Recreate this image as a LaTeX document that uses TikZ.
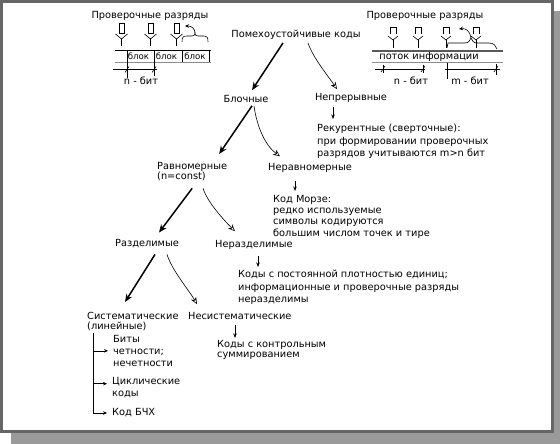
\documentclass[tikz,border=0pt]{standalone}
\usepackage{fontspec}
\setmainfont{DejaVu Sans}
\usetikzlibrary{arrows.meta}
\definecolor{shadowgray}{HTML}{9A9A9A}
\definecolor{framegray}{HTML}{666666}
\begin{document}
\begin{tikzpicture}[x=1pt,y=-1pt,
  txt/.style={font=\fontsize{9.8}{11}\selectfont, inner sep=0pt},
  small/.style={font=\fontsize{8.6}{10}\selectfont, inner sep=0pt},
  lbl/.style={anchor=north west, align=left, inner sep=0pt, font=\fontsize{9.8}{#1}\selectfont},
  lbl/.default=11.5,
  mainarr/.style={line width=1.5pt, -{Stealth[length=8pt,width=6.5pt]}},
  sidearr/.style={line width=0.6pt, -{Stealth[open,length=7pt,width=6pt]}},
  downarr/.style={line width=0.6pt, -{Stealth[length=4.5pt,width=3.5pt]}},
  brarr/.style={line width=0.6pt, -{Stealth[length=4pt,width=3.5pt]}},
  fig/.style={line width=0.6pt},
  bar/.style={line width=1.6pt},
  grayline/.style={line width=0.8pt, black!45}
]
% frame
\fill[shadowgray] (11,10) rectangle (560,443);
\draw[framegray, line width=3pt, fill=white] (1.5,0.5) rectangle (552,430.5);
\useasboundingbox (0,0) rectangle (560,443);

% ---------- top-left sketch ----------
\node[txt] (chkL) at (150,15) {Проверочные разряды};
\foreach \x in {121.5,150.5,176.5}{
  \draw[fig] (\x-2.5,22) rectangle (\x+2.5,32);
  \draw[fig] (\x-6,33) -- (\x,38) -- (\x+6,33);
  \draw[fig] (\x,38) -- (\x,45);
}
\draw[fig] (182,41) .. controls (182,36) and (183,35) .. (187,35) -- (192,35)
  .. controls (194,35) and (195,34) .. (195,32) .. controls (195,34) and (196,35) .. (198,35)
  -- (204,35) .. controls (207,35) and (208,36) .. (208,41);
\draw[brarr] (195,32) .. controls (195,27) and (191,25) .. (185,25);
\draw[bar] (115,49.5) -- (211,49.5);
\draw[grayline] (115,61) -- (211,61);
\draw[fig] (127,49) -- (127,77);
\draw[fig] (154,49) -- (154,75);
\draw[fig] (182,49) -- (182,61);
\draw[fig] (209,49) -- (209,61);
\node[small] (b1) at (138.5,55.5) {блок};
\node[small] (b2) at (166.5,55.5) {блок};
\node[small] (b3) at (195,55.5) {блок};
\draw[fig] (113,68.5) -- (157,68.5);
\draw[fig] (125,71.5) -- (129,65.5);
\draw[fig] (152,71.5) -- (156,65.5);
\node[txt] (nbitL) at (141,80) {n - бит};

% ---------- top-right sketch ----------
\node[txt] (chkR) at (425,15) {Проверочные разряды};
\foreach \x in {393,418,446,476}{
  \draw[fig] (\x-3,33) -- (\x-3,26) -- (\x+3,26) -- (\x+3,33);
  \draw[fig] (\x-5,35) -- (\x,39) -- (\x+5,35);
  \draw[fig] (\x,39) -- (\x,47);
}
\draw[fig] (447,47) -- (448,42) -- (465,42) .. controls (469,42) and (470,39) .. (471,37)
  .. controls (472,39) and (473,42) .. (477,42) -- (489,42) .. controls (494,42) and (496,45) .. (497,48);
\draw[brarr] (471,37) .. controls (470,30) and (466,27) .. (459,28);
\draw[bar, black!65] (372,50) -- (503,50);
\draw[grayline] (372,61) -- (503,61);
\node[txt] (stream) at (429,56) {поток информации};
\draw[fig] (375,68) -- (425,68);
\draw[fig] (383,64) -- (383,72);
\draw[fig] (423,64) -- (423,72);
\draw[fig] (381,71) -- (385,65);
\draw[fig] (421,71) -- (425,65);
\draw[fig] (445,68) -- (500,68);
\draw[fig] (447,62) -- (447,78);
\draw[fig] (496,63) -- (496,74);
\draw[fig] (494,71) -- (498,65);
\node[txt] (nbitR) at (411,80) {n - бит};
\node[txt] (mbitR) at (470,80) {m - бит};

% ---------- tree ----------
\node[txt] (root) at (296,34) {Помехоустойчивые коды};
\node[txt] (block) at (246,98) {Блочные};
\node[txt] (cont) at (351,97) {Непрерывные};
\node[lbl=12.5] (recur) at (317,123) {Рекурентные (сверточные):\\при формировании проверочных\\разрядов учитываются m>n бит};
\node[lbl=10.5] (rav) at (157,161) {Равномерные\\(n=const)};
\node[txt, anchor=west] (nerav) at (268,167) {Неравномерные};
\node[lbl=11.3] (morse) at (273,194) {Код Морзе:\\редко используемые\\символы кодируются\\большим числом точек и тире};
\node[txt] (razd) at (147,243) {Разделимые};
\node[txt, anchor=west] (nerazd) at (215,244) {Неразделимые};
\node[lbl=12.5] (const) at (238,269) {Коды с постоянной плотностью единиц;\\информационные и проверочные разряды\\неразделимы};
\node[lbl=10.5] (sist) at (87,311) {Систематические\\(линейные)};
\node[txt, anchor=west] (nesist) at (188,315) {Несистематические};
\node[lbl=10.5] (control) at (217,339) {Коды с контрольным\\суммированием};
\node[lbl=12] (bity) at (113,334) {Биты\\четности;\\нечетности};
\node[lbl=12.5] (cycl) at (112,376) {Циклические\\коды};
\node[txt, anchor=west] (bch) at (112,412) {Код БЧХ};

\draw[mainarr] ([shift={(-13,3)}]root.south) -- ([shift={(6,-5)}]block.north);
\draw[sidearr] ([shift={(12,3)}]root.south) .. controls +(5,15) and +(-8,-12) .. ([shift={(-14,-4)}]cont.north);
\draw[mainarr] ([shift={(6,3)}]block.south) -- ([shift={(27,-8)}]rav.north);
\draw[sidearr] ([shift={(8,3)}]block.south) .. controls +(3,22) and +(-14,-10) .. ([shift={(12,-7)}]nerav.north west);
\draw[mainarr] ([shift={(0,7)}]rav.south) -- ([shift={(12,-7)}]razd.north);
\draw[sidearr] ([shift={(11,7)}]rav.south) .. controls +(4,14) and +(-10,-10) .. ([shift={(20,-9)}]nerazd.north west);
\draw[mainarr] ([shift={(8,6)}]razd.south) -- ([shift={(38,-10)}]sist.north west);
\draw[sidearr] ([shift={(20,6)}]razd.south) .. controls +(5,16) and +(-8,-14) .. ([shift={(9,-8)}]nesist.north west);

\draw[downarr] ([shift={(-18,4)}]cont.south) -- ([shift={(16,-5)}]recur.north west);
\draw[downarr] ([shift={(27,8)}]nerav.south west) -- ([shift={(22,-4)}]morse.north west);
\draw[downarr] ([shift={(43,6)}]nerazd.south west) -- ([shift={(20,-3)}]const.north west);
\draw[downarr] ([shift={(47,5)}]nesist.south west) -- ([shift={(18,-2)}]control.north west);

\coordinate (vtop) at ([shift={(6,2)}]sist.south west);
\coordinate (cyclpt) at ([shift={(-5,-4)}]cycl.west);
\coordinate (bitypt) at ([shift={(-5,0)}]bity.west);
\draw[brarr] (vtop) |- ([shift={(-5,0)}]bch.west);
\draw[brarr] (vtop |- bitypt) -- (bitypt);
\draw[brarr] (vtop |- cyclpt) -- (cyclpt);
\end{tikzpicture}
\end{document}
